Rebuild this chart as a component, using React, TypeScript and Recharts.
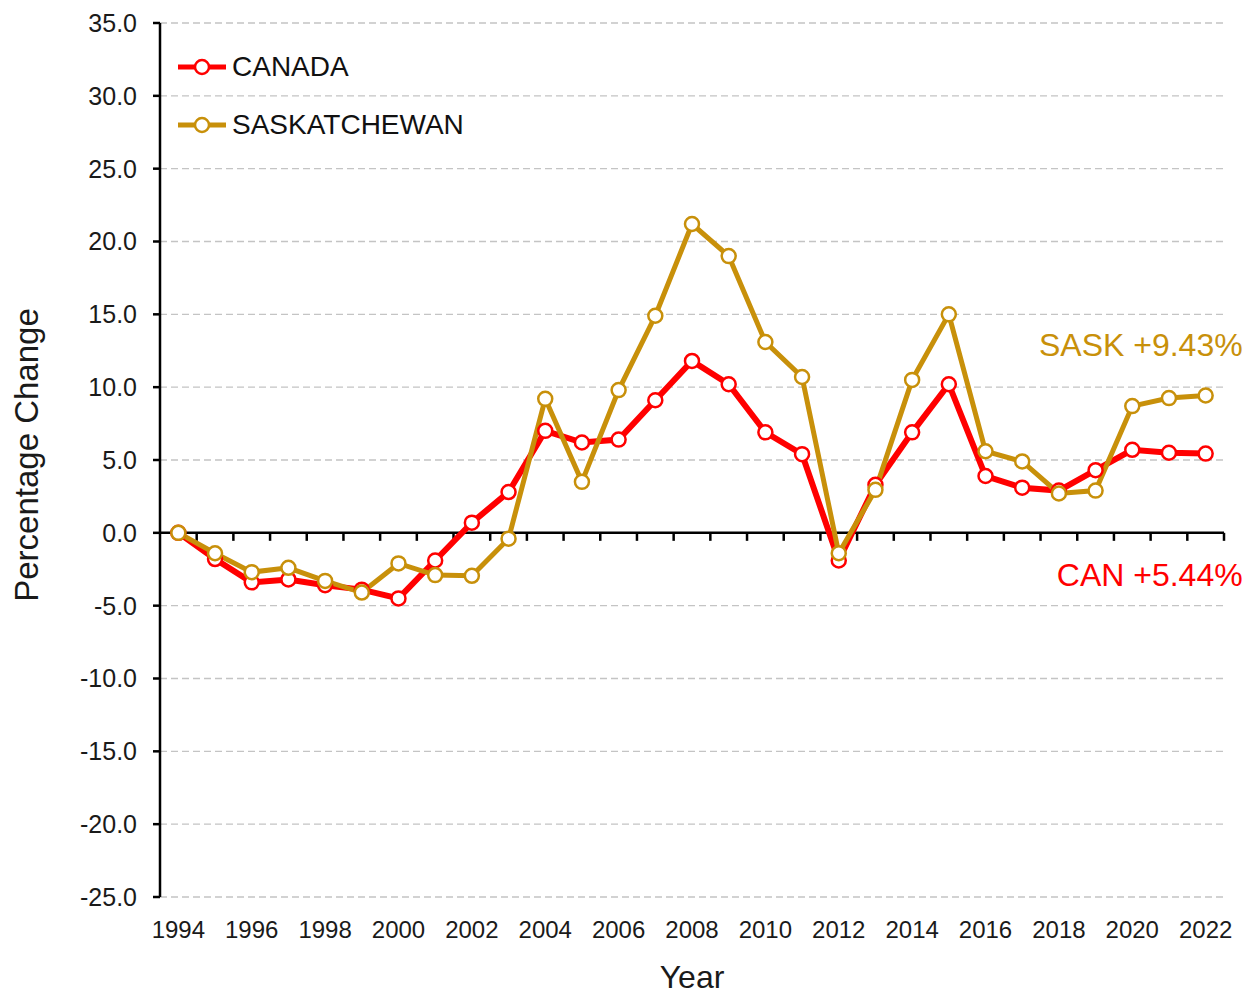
import { CartesianGrid, Legend, Line, LineChart, ReferenceDot, ReferenceLine, XAxis, YAxis } from 'recharts';

const YEARS = [
  1994, 1995, 1996, 1997, 1998, 1999, 2000, 2001, 2002, 2003, 2004, 2005, 2006, 2007, 2008,
  2009, 2010, 2011, 2012, 2013, 2014, 2015, 2016, 2017, 2018, 2019, 2020, 2021, 2022,
];

const CANADA = [
  0, -1.8, -3.4, -3.2, -3.6, -3.9, -4.5, -1.9, 0.7, 2.8, 7.0, 6.2, 6.4, 9.1, 11.8,
  10.2, 6.9, 5.4, -1.9, 3.3, 6.9, 10.2, 3.9, 3.1, 2.9, 4.3, 5.7, 5.5, 5.44,
];

const SASKATCHEWAN = [
  0, -1.4, -2.7, -2.4, -3.3, -4.1, -2.1, -2.9, -2.95, -0.4, 9.2, 3.5, 9.8, 14.9, 21.2,
  19.0, 13.1, 10.7, -1.4, 2.95, 10.5, 15.0, 5.6, 4.9, 2.7, 2.9, 8.7, 9.25, 9.43,
];

const Y_TICKS = [-25, -20, -15, -10, -5, 0, 5, 10, 15, 20, 25, 30, 35];
const X_TICKS = [1994, 1996, 1998, 2000, 2002, 2004, 2006, 2008, 2010, 2012, 2014, 2016, 2018, 2020, 2022];

const RED = '#ff0000';
const GOLD = '#c8900a';
const FONT = '"Liberation Sans", Arial, sans-serif';

const data = YEARS.map((year, i) => ({
  year,
  canada: CANADA[i],
  sask: SASKATCHEWAN[i],
}));

// horizontal axis drawn through zero, with tick marks between the yearly categories
function ZeroAxis(props: any) {
  const { x1, x2, y1 } = props;
  const step = (x2 - x1) / YEARS.length;
  return (
    <g>
      <line x1={x1} x2={x2} y1={y1} y2={y1} stroke="#000" strokeWidth={2.5} />
      {YEARS.map((_, i) => (
        <line
          key={i}
          x1={x1 + step * (i + 1)}
          x2={x1 + step * (i + 1)}
          y1={y1}
          y2={y1 + 8}
          stroke="#000"
          strokeWidth={2.5}
        />
      ))}
    </g>
  );
}

function ChartLegend({ payload }: any) {
  return (
    <div>
      {(payload ?? []).map((entry: any) => (
        <div
          key={entry.value}
          style={{ display: 'flex', alignItems: 'center', height: 58, fontSize: 28, color: '#111' }}
        >
          <svg width={52} height={20} style={{ marginRight: 2 }}>
            <line x1={0} x2={48} y1={10} y2={10} stroke={entry.color} strokeWidth={5} />
            <circle cx={24} cy={10} r={7} fill="#fff" stroke={entry.color} strokeWidth={2.5} />
          </svg>
          <span>{entry.value}</span>
        </div>
      ))}
    </div>
  );
}

export default function App() {
  const last = YEARS.length - 1;
  return (
    <div style={{ position: 'absolute', left: 0, top: 0, fontFamily: FONT, background: '#fff' }}>
      <LineChart width={1247} height={996} data={data} margin={{ top: 23, right: 23, bottom: 0, left: 0 }}>
        <CartesianGrid vertical={false} stroke="#c4c4c4" strokeWidth={1.3} strokeDasharray="7 4" />
        <XAxis
          dataKey="year"
          type="number"
          domain={[1993.5, 2022.5]}
          ticks={X_TICKS}
          axisLine={false}
          tickLine={false}
          tickMargin={18}
          height={99}
          tick={{ fill: '#1a1a1a', fontSize: 24, fontFamily: FONT }}
          label={{
            content: ({ viewBox }: any) => (
              <text
                x={viewBox.x + viewBox.width / 2}
                y={viewBox.y + 91}
                textAnchor="middle"
                fontSize={32}
                fill="#1a1a1a"
                fontFamily={FONT}
              >
                Year
              </text>
            ),
          }}
        />
        <YAxis
          type="number"
          domain={[-25, 35]}
          ticks={Y_TICKS}
          width={160}
          tickSize={7}
          tickMargin={16}
          tickFormatter={(v: number) => v.toFixed(1)}
          axisLine={{ stroke: '#000', strokeWidth: 2.5 }}
          tickLine={{ stroke: '#000', strokeWidth: 2.5 }}
          tick={{ fill: '#1a1a1a', fontSize: 25, fontFamily: FONT }}
          label={{
            content: ({ viewBox }: any) => (
              <text
                transform={`translate(38, ${viewBox.y + viewBox.height / 2 - 5}) rotate(-90)`}
                textAnchor="middle"
                fontSize={33}
                fill="#1a1a1a"
                fontFamily={FONT}
              >
                Percentage Change
              </text>
            ),
          }}
        />
        <ReferenceLine y={0} shape={ZeroAxis} />
        <Legend
          layout="vertical"
          align="center"
          verticalAlign="middle"
          content={<ChartLegend />}
          wrapperStyle={{ position: 'absolute', left: 178, top: 38, width: 'auto', height: 'auto' }}
        />
        <Line
          name="CANADA"
          dataKey="canada"
          stroke={RED}
          strokeWidth={6}
          dot={{ r: 7, fill: '#fff', stroke: RED, strokeWidth: 2.5 }}
          activeDot={false}
          isAnimationActive={false}
        />
        <Line
          name="SASKATCHEWAN"
          dataKey="sask"
          stroke={GOLD}
          strokeWidth={5}
          dot={{ r: 7, fill: '#fff', stroke: GOLD, strokeWidth: 2.5 }}
          activeDot={false}
          isAnimationActive={false}
        />
        <ReferenceDot
          x={YEARS[last]}
          y={SASKATCHEWAN[last]}
          shape={(p: any) => (
            <text x={p.cx + 37} y={p.cy - 39} textAnchor="end" fontSize={32} fill={GOLD} fontFamily={FONT}>
              SASK +9.43%
            </text>
          )}
        />
        <ReferenceDot
          x={YEARS[last]}
          y={CANADA[last]}
          shape={(p: any) => (
            <text x={p.cx + 37} y={p.cy + 132} textAnchor="end" fontSize={32} fill={RED} fontFamily={FONT}>
              CAN +5.44%
            </text>
          )}
        />
      </LineChart>
    </div>
  );
}
